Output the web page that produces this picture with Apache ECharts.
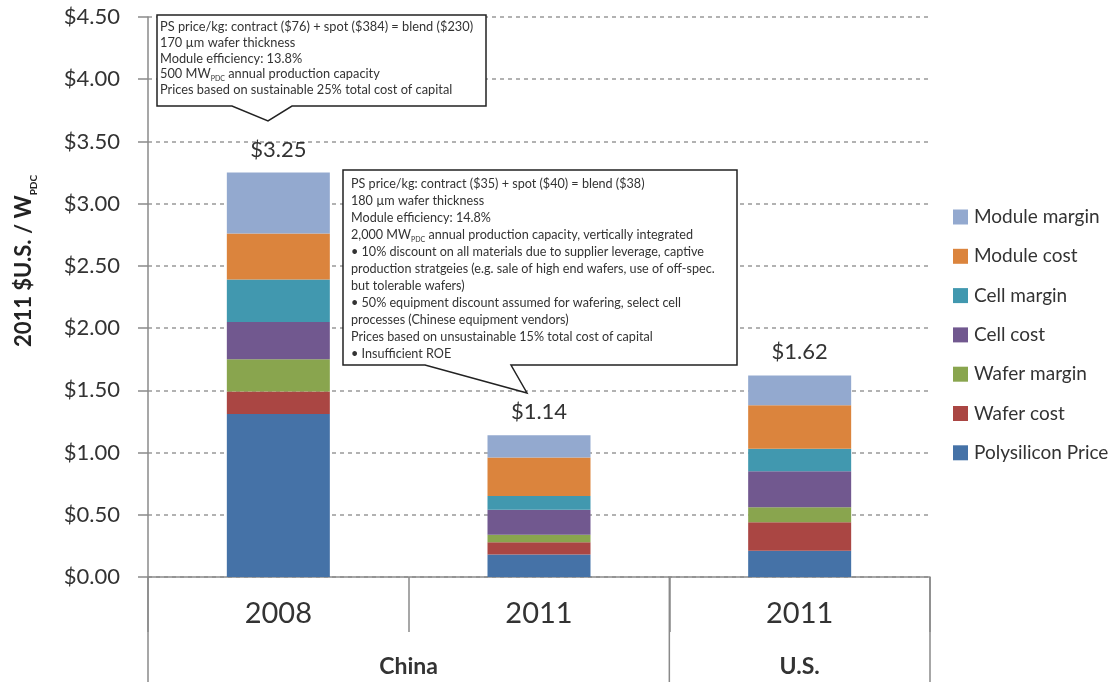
<!DOCTYPE html>
<html>
<head>
<meta charset="utf-8">
<script src="https://cdn.jsdelivr.net/npm/echarts@6/dist/echarts.min.js"></script>
<style>
  html, body { margin: 0; padding: 0; background: #fff; }
  #chart { width: 1113px; height: 682px; }
</style>
</head>
<body>
<div id="chart"></div>
<script>
// Categories: year per bar, and the country group each bar belongs to
const years = ['2008', '2011', '2011'];
const groupNames = ['China', 'U.S.'];
const groupOfBar = [0, 0, 1];

// Stacked cost components, 2011 $U.S. / W (bottom to top)
const polysiliconPrice = [1.31, 0.18, 0.21];
const waferCost        = [0.18, 0.10, 0.23];
const waferMargin      = [0.26, 0.06, 0.12];
const cellCost         = [0.30, 0.20, 0.29];
const cellMargin       = [0.34, 0.11, 0.18];
const moduleCost       = [0.37, 0.31, 0.35];
const moduleMargin     = [0.49, 0.18, 0.24];

// Value axis range
const yMin = 0, yMax = 4.5, yStep = 0.5;

// Assumption notes shown in the callouts
const notes2008 = [
  'PS price/kg: contract ($76) + spot ($384) = blend ($230)',
  '170 µm wafer thickness',
  'Module efficiency: 13.8%',
  '500 MW{sub|PDC} annual production capacity',
  'Prices based on sustainable 25% total cost of capital'
];
const notes2011 = [
  'PS price/kg: contract ($35) + spot ($40) = blend ($38)',
  '180 µm wafer thickness',
  'Module efficiency: 14.8%',
  '2,000 MW{sub|PDC} annual production capacity, vertically integrated',
  '• 10% discount on all materials due to supplier leverage, captive',
  'production stratgeies (e.g. sale of high end wafers, use of off-spec.',
  'but tolerable wafers)',
  '• 50% equipment discount assumed for wafering, select cell',
  'processes (Chinese equipment vendors)',
  'Prices based on unsustainable 15% total cost of capital',
  '• Insufficient ROE'
];

const FONT = 'Lato, "Open Sans", sans-serif';
const TEXT = '#333';
const AXIS = '#8a8a8a';

const seriesDefs = [
  { name: 'Polysilicon Price', data: polysiliconPrice, color: '#4572A7' },
  { name: 'Wafer cost',        data: waferCost,        color: '#AA4643' },
  { name: 'Wafer margin',      data: waferMargin,      color: '#89A54E' },
  { name: 'Cell cost',         data: cellCost,         color: '#71588F' },
  { name: 'Cell margin',       data: cellMargin,       color: '#4198AF' },
  { name: 'Module cost',       data: moduleCost,       color: '#DB843D' },
  { name: 'Module margin',     data: moduleMargin,     color: '#93A9CF' }
];

const totals = years.map((_, i) =>
  seriesDefs.reduce((s, d) => s + d.data[i], 0));

const chart = echarts.init(document.getElementById('chart'), null, { renderer: 'canvas' });

const series = seriesDefs.map((d, k) => ({
  name: d.name,
  type: 'bar',
  stack: 'total',
  barWidth: 103,
  data: d.data,
  itemStyle: { color: d.color },
  emphasis: { disabled: true },
  label: k === seriesDefs.length - 1 ? {
    show: true,
    position: 'top',
    distance: 12,
    formatter: p => '$' + totals[p.dataIndex].toFixed(2),
    fontFamily: FONT,
    fontSize: 22,
    color: TEXT
  } : { show: false }
}));

chart.setOption({
  animation: false,
  backgroundColor: '#fff',
  textStyle: { fontFamily: FONT },
  grid: { left: 148, right: 183, top: 17, bottom: 105 },
  legend: {
    orient: 'vertical',
    left: 948,
    top: 202,
    itemWidth: 15,
    itemHeight: 15,
    itemGap: 19.3,
    icon: 'rect',
    data: seriesDefs.map(d => d.name).reverse(),
    textStyle: { fontFamily: FONT, fontSize: 19, color: TEXT, lineHeight: 20, padding: [0, 0, 0, 1] },
    selectedMode: false
  },
  xAxis: {
    type: 'category',
    data: years,
    axisLine: { show: true, lineStyle: { color: AXIS, width: 1.5 } },
    axisTick: { show: true, interval: 0, length: 55, lineStyle: { color: AXIS, width: 1.5 } },
    axisLabel: { fontFamily: FONT, fontSize: 29, color: TEXT, margin: 22 }
  },
  yAxis: {
    type: 'value',
    min: yMin,
    max: yMax,
    interval: yStep,
    axisLine: { show: true, lineStyle: { color: AXIS, width: 1.5 } },
    axisTick: { show: true, length: 10, lineStyle: { color: AXIS, width: 1.5 } },
    axisLabel: {
      fontFamily: FONT, fontSize: 22, color: TEXT, margin: 28,
      formatter: v => '$' + v.toFixed(2)
    },
    splitLine: { show: true, lineStyle: { color: '#999', width: 1.5, type: [4, 4] } }
  },
  series: series
});

// Callout boxes with a pointer toward the bar they describe
function callout(points, textLines, tx, ty, lh, fs) {
  return [
    {
      type: 'polygon',
      z: 100,
      shape: { points: points },
      style: { fill: '#fff', stroke: '#222', lineWidth: 1.5 }
    },
    {
      type: 'text',
      z: 101,
      x: tx,
      y: ty,
      style: {
        text: textLines.join('\n'),
        fontFamily: FONT,
        fontSize: fs,
        lineHeight: lh,
        fill: '#333',
        rich: {
          sub: { fontSize: 7, lineHeight: lh, verticalAlign: 'bottom', fill: '#333', fontFamily: FONT }
        }
      }
    }
  ];
}

function buildOverlay() {
  const cx = years.map((_, i) => chart.convertToPixel({ xAxisIndex: 0 }, i));
  const y0 = chart.convertToPixel({ yAxisIndex: 0 }, 0);
  const gridRight = 1113 - 183;
  const gridLeft = 148;
  const bottom = 682;

  const g = [];
  // Group separators extending below the year row
  const groupEdges = [gridLeft];
  for (let i = 1; i < years.length; i++) {
    if (groupOfBar[i] !== groupOfBar[i - 1]) groupEdges.push((cx[i] + cx[i - 1]) / 2);
  }
  groupEdges.push(gridRight);
  groupEdges.forEach(x => g.push({
    type: 'line', z: 50,
    shape: { x1: x, y1: y0, x2: x, y2: bottom },
    style: { stroke: AXIS, lineWidth: 1.5 }
  }));

  // Group names centred under their bars
  groupNames.forEach((name, gi) => {
    const idx = groupOfBar.map((v, i) => v === gi ? i : -1).filter(i => i >= 0);
    const mid = (cx[idx[0]] + cx[idx[idx.length - 1]]) / 2;
    g.push({
      type: 'text', z: 50,
      x: mid, y: 667,
      style: {
        text: name, fontFamily: FONT, fontSize: 23, fontWeight: 'bold',
        fill: TEXT, align: 'center', verticalAlign: 'middle'
      }
    });
  });

  // Vertical axis title
  g.push({
    type: 'text', z: 50,
    x: 24, y: 261,
    rotation: Math.PI / 2,
    style: {
      text: '2011 $U.S. / W{sub|PDC}',
      fontFamily: FONT, fontSize: 22, fontWeight: 'bold',
      fill: '#222', align: 'center', verticalAlign: 'middle',
      rich: {
        sub: { fontSize: 10, fontWeight: 'bold', fontFamily: FONT, fill: '#222', lineHeight: 30, verticalAlign: 'bottom' }
      }
    }
  });

  g.push(...callout(
    [[157, 15], [486, 15], [486, 106], [292, 106], [268, 121], [232, 106], [157, 106]],
    notes2008, 160, 19, 15.8, 12.8));
  g.push(...callout(
    [[343, 170], [737, 170], [737, 365], [511, 365], [527, 393], [425, 365], [343, 365]],
    notes2011, 351, 175, 17, 12.6));

  chart.setOption({ graphic: { elements: g } });
}

buildOverlay();
</script>
</body>
</html>
